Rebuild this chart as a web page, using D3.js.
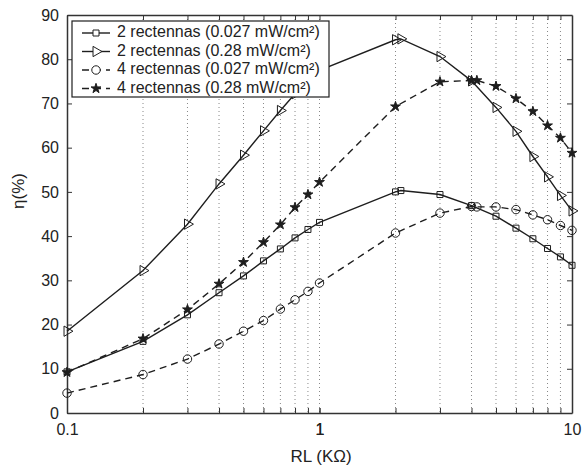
<!DOCTYPE html>
<html>
<head>
<meta charset="utf-8">
<script src="https://cdn.jsdelivr.net/npm/d3@7"></script>
<style>
  body { margin: 0; background: #fff; }
  text { font-family: "Liberation Sans", Arial, sans-serif; fill: #222; }
</style>
</head>
<body>
<div id="chart"></div>
<script>
// load resistance values (kOhm); the 2-rectenna runs have an extra point near 2, the 4-rectenna runs near 4
const rl2 = [0.1, 0.2, 0.3, 0.4, 0.5, 0.6, 0.7, 0.8, 0.9, 1, 2, 2.1, 3, 4, 5, 6, 7, 8, 9, 10];
const rl4 = [0.1, 0.2, 0.3, 0.4, 0.5, 0.6, 0.7, 0.8, 0.9, 1, 2, 3, 4, 4.2, 5, 6, 7, 8, 9, 10];

const eta2Low  = [9.3, 16.2, 22.2, 27.2, 31.0, 34.4, 37.1, 39.6, 41.5, 43.1, 50.0, 50.3, 49.4, 46.9, 44.5, 41.8, 39.4, 37.2, 35.3, 33.4];
const eta2High = [18.5, 32.2, 42.7, 51.8, 58.3, 63.8, 68.4, 72.2, 75.0, 77.5, 84.4, 84.6, 80.6, 75.1, 69.1, 63.7, 58.0, 53.4, 49.2, 45.7];
const eta4Low  = [4.5, 8.7, 12.2, 15.6, 18.5, 20.9, 23.5, 25.6, 27.5, 29.4, 40.7, 45.2, 46.7, 46.6, 46.6, 46.0, 44.8, 43.7, 42.4, 41.3];
const eta4High = [9.2, 16.8, 23.4, 29.2, 34.1, 38.6, 42.6, 46.5, 49.4, 52.2, 69.3, 74.9, 75.2, 75.2, 73.9, 71.1, 68.2, 65.0, 62.2, 58.8];

const seriesNames = [
  "2 rectennas (0.027 mW/cm\u00b2)",
  "2 rectennas (0.28 mW/cm\u00b2)",
  "4 rectennas (0.027 mW/cm\u00b2)",
  "4 rectennas (0.28 mW/cm\u00b2)"
];
const yTicks = [0, 10, 20, 30, 40, 50, 60, 70, 80, 90];
const xTicks = [0.1, 1, 10];
const gridTicks = [0.2, 0.3, 0.4, 0.5, 0.6, 0.7, 0.8, 0.9, 1, 2, 3, 4, 5, 6, 7, 8, 9];

const W = 582, H = 469;
const plotL = 67, plotR = 572, plotT = 15, plotB = 413;
const ink = "#1e1e1e";

const svg = d3.select("#chart").append("svg")
  .attr("width", W)
  .attr("height", H);

const x = d3.scaleLog().domain([0.1, 10]).range([plotL, plotR]);
const y = d3.scaleLinear().domain([0, 90]).range([plotB, plotT]);

//dotted vertical grid
svg.append("g").selectAll("line")
  .data(gridTicks)
  .join("line")
  .attr("x1", d => x(d)).attr("x2", d => x(d))
  .attr("y1", plotT).attr("y2", plotB)
  .attr("stroke", "#888")
  .attr("stroke-width", 1)
  .attr("stroke-dasharray", "1,3");

//frame with inward ticks on every side
const axB = svg.append("g").attr("transform", `translate(0,${plotB})`)
  .call(d3.axisBottom(x).tickValues(xTicks.concat(gridTicks)).tickSizeInner(-5).tickSizeOuter(0).tickFormat(d => xTicks.includes(d) ? d3.format("")(d) : ""));
const axT = svg.append("g").attr("transform", `translate(0,${plotT})`)
  .call(d3.axisTop(x).tickValues(gridTicks).tickSizeInner(-5).tickSizeOuter(0).tickFormat(""));
const axL = svg.append("g").attr("transform", `translate(${plotL},0)`)
  .call(d3.axisLeft(y).tickValues(yTicks).tickSizeInner(-5).tickSizeOuter(0));
const axR = svg.append("g").attr("transform", `translate(${plotR},0)`)
  .call(d3.axisRight(y).tickValues(yTicks).tickSizeInner(-5).tickSizeOuter(0).tickFormat(""));

[axB, axT, axL, axR].forEach(g => {
  g.select(".domain").attr("stroke", "#333").attr("stroke-width", 1.5);
  g.selectAll(".tick line").attr("stroke", "#333").attr("stroke-width", 1);
  g.selectAll("text").style("font-size", "16px").attr("fill", ink);
});
axB.selectAll(".tick text").attr("dy", null).attr("y", 18).attr("dominant-baseline", "middle");
axL.selectAll(".tick text").attr("x", -8);

//axis titles
svg.append("text")
  .attr("x", 321).attr("y", 458)
  .attr("text-anchor", "middle").attr("dominant-baseline", "middle")
  .style("font-size", "17px")
  .text("RL (K\u03a9)");
svg.append("text")
  .attr("transform", "translate(20,191) rotate(-90)")
  .attr("text-anchor", "middle").attr("dominant-baseline", "middle")
  .style("font-size", "17px")
  .text("\u03b7(%)");

//marker shapes
const shapes = [
  { type: d3.symbolSquare, size: 36, rot: 0, fill: "none" },
  { type: d3.symbolTriangle, size: 46, rot: 90, fill: "none" },
  { type: d3.symbolCircle, size: 56, rot: 0, fill: "none" },
  { type: d3.symbolStar, size: 30, rot: 0, fill: ink }
];
const dashes = [null, null, "7,5", "7,5"];

const series = [
  { xs: rl2, ys: eta2Low },
  { xs: rl2, ys: eta2High },
  { xs: rl4, ys: eta4Low },
  { xs: rl4, ys: eta4High }
];

const line = d3.line().x(d => x(d[0])).y(d => y(d[1]));

series.forEach((s, i) => {
  const pts = s.xs.map((v, k) => [v, s.ys[k]]);
  svg.append("path")
    .datum(pts)
    .attr("d", line)
    .attr("fill", "none")
    .attr("stroke", ink)
    .attr("stroke-width", 1.4)
    .attr("stroke-dasharray", dashes[i]);
  const sh = shapes[i];
  svg.append("g").selectAll("path")
    .data(pts)
    .join("path")
    .attr("transform", d => `translate(${x(d[0])},${y(d[1])}) rotate(${sh.rot})`)
    .attr("d", d3.symbol().type(sh.type).size(sh.size))
    .attr("fill", sh.fill)
    .attr("stroke", ink)
    .attr("stroke-width", 1);
});

//legend
const lg = svg.append("g");
lg.append("rect")
  .attr("x", 72).attr("y", 21)
  .attr("width", 257).attr("height", 76)
  .attr("fill", "#fff")
  .attr("stroke", ink)
  .attr("stroke-width", 1.2);
seriesNames.forEach((name, i) => {
  const ly = 33 + i * 18.5;
  lg.append("line")
    .attr("x1", 82).attr("x2", 110)
    .attr("y1", ly).attr("y2", ly)
    .attr("stroke", ink).attr("stroke-width", 1.4)
    .attr("stroke-dasharray", dashes[i]);
  const sh = shapes[i];
  lg.append("path")
    .attr("transform", `translate(96,${ly}) rotate(${sh.rot})`)
    .attr("d", d3.symbol().type(sh.type).size(sh.size))
    .attr("fill", sh.fill === "none" ? "#fff" : sh.fill)
    .attr("stroke", ink)
    .attr("stroke-width", 1);
  lg.append("text")
    .attr("x", 117).attr("y", ly)
    .attr("dominant-baseline", "middle")
    .style("font-size", "16px")
    .text(name);
});
</script>
</body>
</html>
